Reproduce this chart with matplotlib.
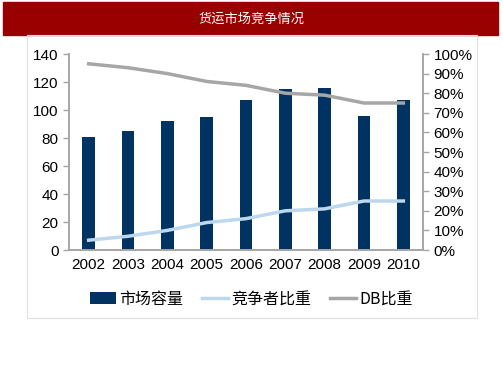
import numpy as np
import matplotlib
matplotlib.use('Agg')
import matplotlib.pyplot as plt
from matplotlib.patches import Rectangle

plt.rcParams['font.family'] = ['Liberation Sans', 'Noto Sans CJK SC', 'DejaVu Sans']

# data
years = ['2002', '2003', '2004', '2005', '2006', '2007', '2008', '2009', '2010']
capacity = [81, 85, 92, 95, 107, 115, 116, 96, 107]
competitor = [0.05, 0.07, 0.10, 0.14, 0.16, 0.20, 0.21, 0.25, 0.25]
db_share = [0.95, 0.93, 0.90, 0.86, 0.84, 0.80, 0.79, 0.75, 0.75]

fig = plt.figure(figsize=(5.03, 3.78), dpi=100)

# red title banner
fig.patches.append(Rectangle((3 / 503, 1 - 35 / 378), 495 / 503, 33 / 378,
                             transform=fig.transFigure, color='#990000', zorder=0))
fig.text(0.5, 1 - 19 / 378, '货运市场竞争情况', color='white', fontsize=9.5,
         ha='center', va='center', family=['Noto Sans CJK SC', 'DejaVu Sans'])
# light frame
fig.patches.append(Rectangle((27 / 503, 1 - 318 / 378), 450 / 503, 283 / 378,
                             transform=fig.transFigure, fill=False,
                             edgecolor='#E0E0E0', linewidth=0.8, zorder=0))

ax = fig.add_axes([69 / 503, 1 - 250 / 378, 354 / 503, 196 / 378])
x = np.arange(len(years))
bars = ax.bar(x, capacity, width=0.32, color='#003262', label='市场容量', zorder=2)
ax.set_xlim(-0.5, 8.5)
ax.set_ylim(0, 140)
ax.set_yticks(range(0, 141, 20))
ax.set_xticks(x)
ax.set_xticklabels(years)

ax2 = ax.twinx()
l1, = ax2.plot(x, competitor, color='#BDD7EE', linewidth=2.5, label='竞争者比重')
l2, = ax2.plot(x, db_share, color='#A6A6A6', linewidth=2.5, label='DB比重')
ax2.set_ylim(0, 1)
ax2.set_yticks(np.arange(0, 1.01, 0.1))
ax2.set_yticklabels([f'{int(round(v * 100))}%' for v in np.arange(0, 1.01, 0.1)])

for a in (ax, ax2):
    for s in a.spines.values():
        s.set_color('#A6A6A6')
        s.set_linewidth(1.2)
    a.spines['top'].set_visible(False)
    a.tick_params(axis='both', colors='#A6A6A6', labelcolor='black', labelsize=11,
                  length=4, width=1)
ax.tick_params(axis='x', length=0, pad=6)

fig.legend([bars, l1, l2], ['市场容量', '竞争者比重', 'DB比重'],
           loc='center', bbox_to_anchor=(0.5, 1 - 299 / 378), ncol=3, frameon=False,
           prop={'family': ['Noto Sans CJK SC', 'DejaVu Sans'], 'size': 11.5},
           handlelength=1.6, handletextpad=0.2, columnspacing=1.2)

fig.savefig('out.png', dpi=100)
